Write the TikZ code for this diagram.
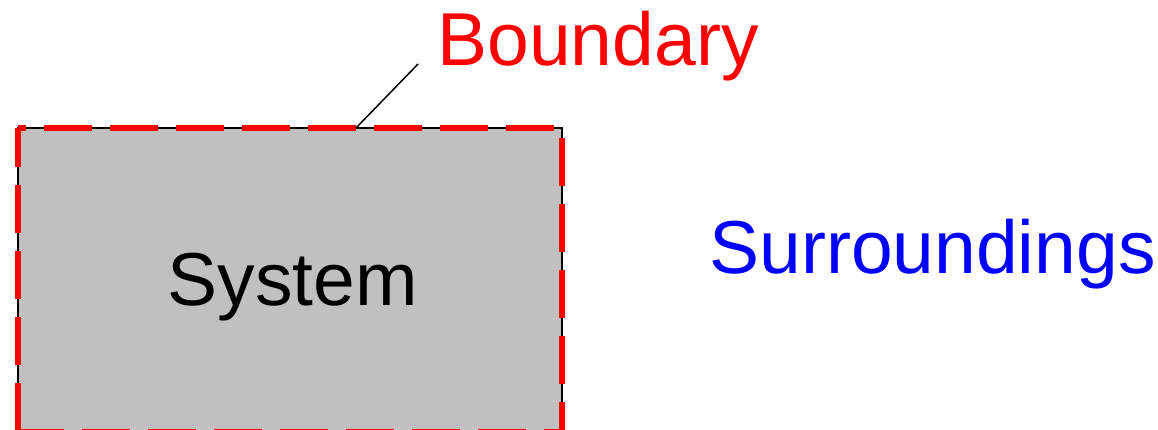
\documentclass[tikz,border=0pt]{standalone}
\usepackage{fontspec}
\setmainfont{Liberation Sans}
\definecolor{sysgray}{RGB}{192,192,192}
\definecolor{bred}{RGB}{255,0,0}
\definecolor{sblue}{RGB}{0,0,255}
\begin{document}
\begin{tikzpicture}[x=1pt,y=-1pt,
  bigtext/.style={inner sep=0pt,outer sep=0pt,font=\fontsize{75}{90}\selectfont},
  sysbox/.style={draw=black,line width=1.2pt,fill=sysgray,inner sep=0pt,outer sep=0pt,
    minimum width=544pt,minimum height=304pt},
  bdash/.style={draw=bred,line width=6pt,dash pattern=on 48pt off 18pt},
  leader/.style={draw=black,line width=1.5pt}]
\useasboundingbox (0,0) rectangle (1158,430);
\node[sysbox] (box) at (290,280) {};
\draw[bdash,dash phase=40pt] (box.north west) -- (box.north east);
\draw[bdash,dash phase=56pt] (box.north east) -- (box.south east);
\draw[bdash,dash phase=9pt] (box.north west) -- (box.south west);
\draw[bdash,dash phase=2pt] (box.south west) -- (box.south east);
\node[bigtext,anchor=base west] (sys) at (167.5,305) {System};
\node[bigtext,anchor=base west,text=bred] (bnd) at (437.5,66) {Boundary};
\node[bigtext,anchor=base west,text=sblue] (sur) at (709.5,273) {Surroundings};
\coordinate (lstart) at (356,128);
\coordinate (lend) at (418,64);
\draw[leader] (lstart) -- (lend);
\end{tikzpicture}
\end{document}
